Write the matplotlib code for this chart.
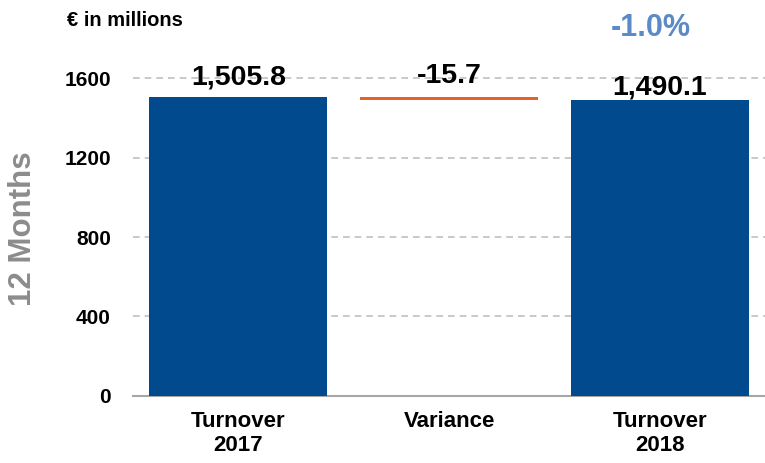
import numpy as np
import matplotlib
matplotlib.use("Agg")
import matplotlib.pyplot as plt

plt.rcParams['font.family'] = ['Liberation Sans', 'DejaVu Sans']
plt.rcParams['font.weight'] = 'bold'

# data
categories = ["Turnover\n2017", "Variance", "Turnover\n2018"]
turnover_2017 = 1505.8
turnover_2018 = 1490.1
variance = -15.7
pct_change = "-1.0%"
yticks = [0, 400, 800, 1200, 1600]

blue = "#004A8D"
orange = "#E8612C"

fig = plt.figure(figsize=(7.65, 4.63), dpi=100)
ax = fig.add_axes([0.174, 0.145, 0.826, 0.75])

x = np.arange(len(categories))
w = 0.845
ax.bar(x[0], turnover_2017, width=w, color=blue, zorder=3)
ax.bar(x[1], -variance, bottom=turnover_2018, width=w, color=orange, zorder=3)
ax.bar(x[2], turnover_2018, width=w, color=blue, zorder=3)

# value labels
labels = [f"{turnover_2017:,.1f}", f"{variance:,.1f}", f"{turnover_2018:,.1f}"]
tops = [turnover_2017, turnover_2017, turnover_2018]
offs = [9, 10, 4]
for xi, t, lab, o in zip(x, tops, labels, offs):
    ax.annotate(lab, (xi, t), xytext=(0, o), textcoords="offset points",
                ha="center", va="baseline", fontsize=20.5, fontweight="bold", zorder=4)

ax.set_xlim(-0.5, 2.5)
ax.set_ylim(0, 1750)
ax.set_yticks(yticks)
ax.set_yticklabels([str(v) for v in yticks])
ax.set_xticks(x)
ax.set_xticklabels(categories, fontsize=16, linespacing=1.15)
ax.tick_params(axis="y", length=0, pad=16, labelsize=15)
ax.tick_params(axis="x", length=0, pad=11)

ax.yaxis.grid(True, linestyle=(0, (4, 3)), color="#C0C0C0", linewidth=1.2, zorder=0)
for s in ["top", "right", "left"]:
    ax.spines[s].set_visible(False)
ax.spines["bottom"].set_color("#A6A6A6")
ax.spines["bottom"].set_linewidth(1.5)

ax.set_ylabel("12 Months", fontsize=22.5, fontweight="bold", color="#8C8C8C")
ax.yaxis.set_label_coords(-0.15, 0.48)

fig.text(0.087, 0.944, "€ in millions", fontsize=14.5, fontweight="bold", va="baseline", ha="left")
fig.text(0.851, 0.922, pct_change, fontsize=22, fontweight="bold", color="#5B8AC6",
         va="baseline", ha="center")

fig.savefig("out.png", dpi=100)
